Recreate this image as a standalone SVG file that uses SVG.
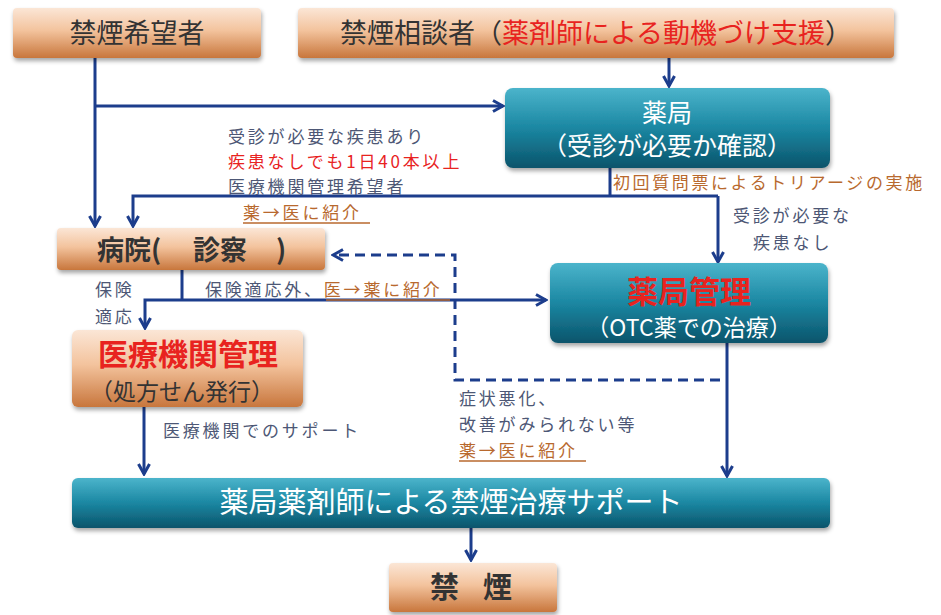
<svg xmlns="http://www.w3.org/2000/svg" width="941" height="615" viewBox="0 0 941 615">
<defs>
<linearGradient id="og" x1="0" y1="0" x2="0" y2="1">
<stop offset="0" stop-color="#fbe6d6"/>
<stop offset="0.45" stop-color="#f3c39d"/>
<stop offset="1" stop-color="#c8763c"/>
</linearGradient>
<linearGradient id="tg" x1="0" y1="0" x2="0" y2="1">
<stop offset="0" stop-color="#4bb4cb"/>
<stop offset="0.5" stop-color="#1b87a2"/>
<stop offset="1" stop-color="#0b546b"/>
</linearGradient>
<filter id="sh" x="-10%" y="-20%" width="120%" height="150%">
<feDropShadow dx="1" dy="3" stdDeviation="2" flood-color="#000" flood-opacity="0.35"/>
</filter>
<marker id="arr" viewBox="0 0 14 14" refX="12" refY="7" markerWidth="14" markerHeight="14" markerUnits="userSpaceOnUse" orient="auto">
<path d="M2,1.5 L12,7 L2,12.5" fill="none" stroke="#1c3d8c" stroke-width="3" stroke-linejoin="miter"/>
</marker>
</defs>
<style>
text{font-family:"Noto Sans CJK JP","Noto Sans",sans-serif;}
.ob{fill:url(#og);filter:url(#sh);}
.tb{fill:url(#tg);filter:url(#sh);}
.big{font-size:27px;fill:#333;}
.wt{fill:#fff;}
.ln{fill:none;stroke:#1c3d8c;stroke-width:3;}
.ann{font-size:17px;fill:#4d5775;letter-spacing:2.8px;}
.red{fill:#e8231f;}
.brn{fill:#b8692e;}
.ul{stroke:#b8692e;stroke-width:1.5;}
</style>
<g id="connectors">
<path class="ln" d="M669,58 V86" marker-end="url(#arr)"/>
<path class="ln" d="M95,58 V226" marker-end="url(#arr)"/>
<path class="ln" d="M95,106 H503" marker-end="url(#arr)"/>
<path class="ln" d="M610,168 V196"/>
<path class="ln" d="M718,196 H133 V226" marker-end="url(#arr)"/>
<path class="ln" d="M718,196 V262" marker-end="url(#arr)"/>
<path class="ln" d="M182,270 V300"/>
<path class="ln" d="M182,300 H546" marker-end="url(#arr)"/>
<path class="ln" d="M182,300 H145 V328" marker-end="url(#arr)"/>
<path class="ln" d="M720,380 H455 V255 H333" stroke-dasharray="10,6" marker-end="url(#arr)"/>
<path class="ln" d="M144,407 V474" marker-end="url(#arr)"/>
<path class="ln" d="M727,343 V476" marker-end="url(#arr)"/>
<path class="ln" d="M471,528 V560" marker-end="url(#arr)"/>
</g>
<g id="node-kibou">
<rect class="ob" x="13" y="8" width="248" height="50" rx="4"/>
<text class="big" x="137" y="43" text-anchor="middle">禁煙希望者</text>
</g>
<g id="node-soudan">
<rect class="ob" x="298" y="8" width="596" height="50" rx="4"/>
<text class="big" x="596" y="43" text-anchor="middle">禁煙相談者（<tspan class="red">薬剤師による動機づけ支援</tspan>）</text>
</g>
<g id="node-yakkyoku">
<rect class="tb" x="505" y="88" width="325" height="80" rx="8"/>
<text class="wt" x="667" y="122" font-size="25" text-anchor="middle">薬局</text>
<text class="wt" x="667" y="155" font-size="25" text-anchor="middle">（受診が必要か確認）</text>
</g>
<g id="node-byouin">
<rect class="ob" x="57" y="228" width="268" height="42" rx="4"/>
<text x="97" y="260" font-size="27" fill="#333" font-weight="bold">病院(</text>
<text x="193" y="260" font-size="27" fill="#333" font-weight="bold">診察</text>
<text x="276" y="260" font-size="27" fill="#333" font-weight="bold">)</text>
</g>
<g id="node-iryou">
<rect class="ob" x="72" y="330" width="231" height="77" rx="6"/>
<text class="red" x="188" y="365" font-size="30" text-anchor="middle" font-weight="bold">医療機関管理</text>
<text x="182" y="400" font-size="23" fill="#333" text-anchor="middle">（処方せん発行）</text>
</g>
<g id="node-yakkyokukanri">
<rect class="tb" x="550" y="263" width="278" height="80" rx="8"/>
<text class="red" x="689" y="303" font-size="31" text-anchor="middle" font-weight="bold">薬局管理</text>
<text class="wt" x="689" y="336" font-size="23" text-anchor="middle">（OTC薬での治療）</text>
</g>
<g id="node-support">
<rect class="tb" x="72" y="478" width="758" height="50" rx="6"/>
<text class="wt" x="451" y="513" font-size="29" text-anchor="middle">薬局薬剤師による禁煙治療サポート</text>
</g>
<g id="node-kinen">
<rect class="ob" x="389" y="563" width="168" height="49" rx="4"/>
<text x="430" y="598" font-size="29" fill="#333" font-weight="bold">禁</text>
<text x="483" y="598" font-size="29" fill="#333" font-weight="bold">煙</text>
</g>
<g id="labels">
<text class="ann" x="228" y="143">受診が必要な疾患あり</text>
<text class="ann red" x="228" y="168">疾患なしでも1日40本以上</text>
<text class="ann" x="228" y="193">医療機関管理希望者</text>
<text class="ann brn" x="243" y="219">薬→医に紹介</text>
<line class="ul" x1="243" y1="223" x2="370" y2="223"/>
<text class="ann brn" x="613" y="189" font-size="18" style="letter-spacing:2.6px">初回質問票によるトリアージの実施</text>
<text class="ann" x="733" y="222">受診が必要な</text>
<text class="ann" x="753" y="249">疾患なし</text>
<text class="ann" x="95" y="296">保険</text>
<text class="ann" x="95" y="323">適応</text>
<text class="ann" x="205" y="296">保険適応外、<tspan class="brn">医→薬に紹介</tspan></text>
<line class="ul" x1="326" y1="300" x2="450" y2="300"/>
<text class="ann" x="459" y="405">症状悪化、</text>
<text class="ann" x="459" y="431">改善がみられない等</text>
<text class="ann brn" x="459" y="457">薬→医に紹介</text>
<line class="ul" x1="459" y1="461" x2="586" y2="461"/>
<text class="ann" x="163" y="437">医療機関でのサポート</text>
</g>
</svg>
